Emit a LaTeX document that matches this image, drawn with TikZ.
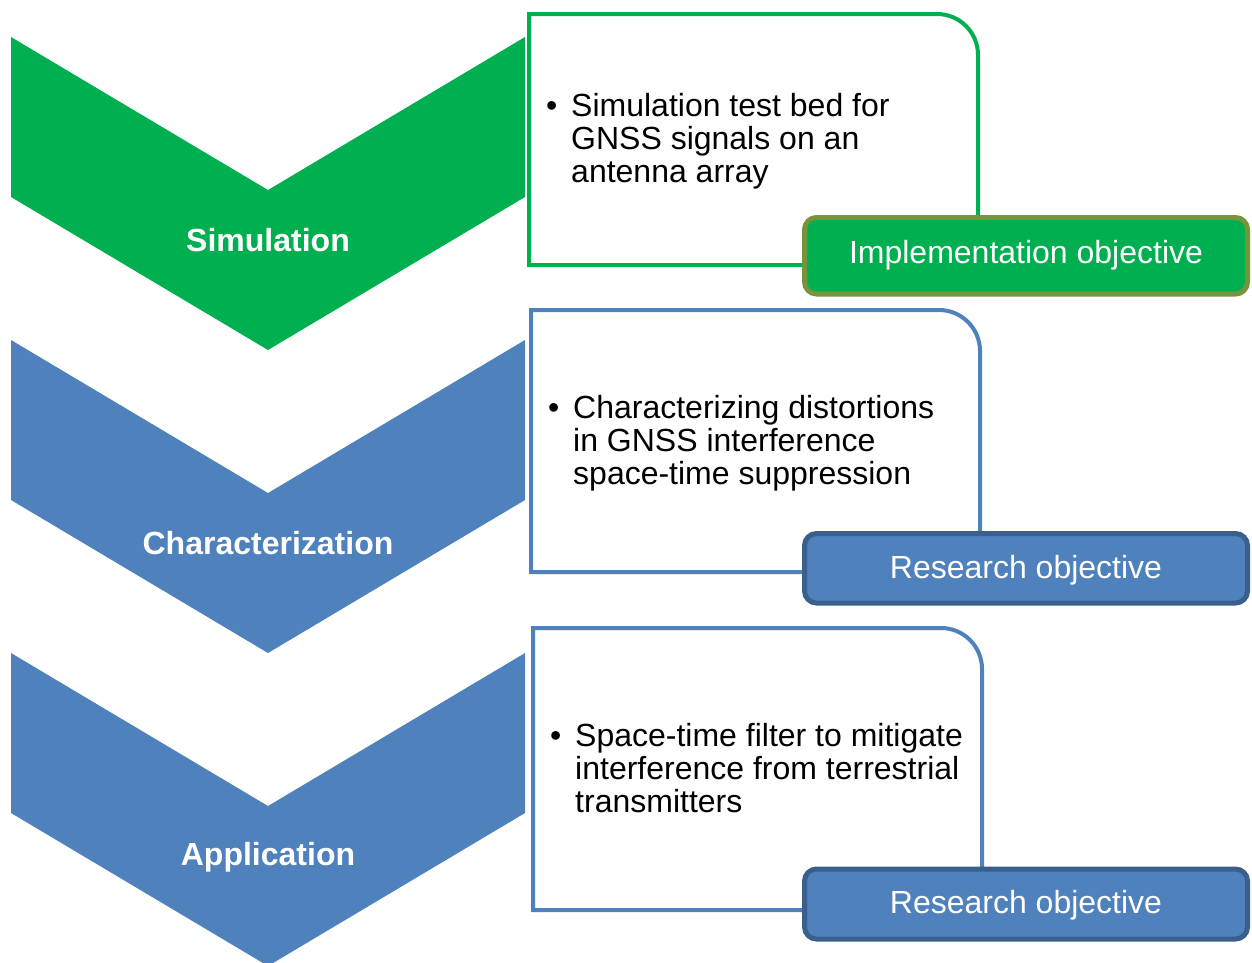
\documentclass[tikz,border=0pt]{standalone}
\usepackage{fontspec}
\setmainfont{Liberation Sans}
\begin{document}
\begin{tikzpicture}[x=1pt,y=-1pt,
  chev/.style={fill=#1,draw=none},
  chevlabel/.style={text=white,font=\fontsize{32}{33}\selectfont\bfseries},
  outline/.style={draw=#1,line width=4pt,fill=white},
  tag/.style={fill=#1,line width=5pt,rounded corners=12pt},
  tagtext/.style={text=white,font=\fontsize{32}{33}\selectfont},
  bodytext/.style={anchor=base west,inner sep=0pt,font=\fontsize{32}{33}\selectfont},
]
\definecolor{sgreen}{HTML}{00B050}
\definecolor{olive}{HTML}{77933C}
\definecolor{sblue}{HTML}{4F81BD}
\definecolor{dblue}{HTML}{3A5F8D}
\useasboundingbox (0,0) rectangle (1252,962);

% phase chevrons
\begin{scope}
\clip (0,0) rectangle (1252,962);
\fill[chev=sgreen] (11,37) -- (268,190) -- (525,37) -- (525,197) -- (268,350) -- (11,197) -- cycle;
\fill[chev=sblue] (11,340) -- (268,493) -- (525,340) -- (525,500) -- (268,653) -- (11,500) -- cycle;
\fill[chev=sblue] (11,653) -- (268,806) -- (525,653) -- (525,813) -- (268,966) -- (11,813) -- cycle;
\end{scope}
\node[chevlabel] (simlabel) at (268,240) {Simulation};
\node[chevlabel] (charlabel) at (268,543) {Characterization};
\node[chevlabel] (applabel) at (268,857) {Application};

% description boxes (rounded top-right corner only)
\draw[outline=sgreen] (529,265) -- (529,14) [rounded corners=41pt] -- (978,14) [sharp corners] -- (978,265) -- cycle;
\draw[outline=sblue] (531,572) -- (531,310) [rounded corners=41pt] -- (980,310) [sharp corners] -- (980,572) -- cycle;
\draw[outline=sblue] (533,910) -- (533,628) [rounded corners=41pt] -- (982,628) [sharp corners] -- (982,910) -- cycle;

% bullet texts
\node[bodytext] (b1) at (546,116) {\textbullet};
\node[bodytext] (t1a) at (571,116) {Simulation test bed for};
\node[bodytext] (t1b) at (571,149) {GNSS signals on an};
\node[bodytext] (t1c) at (571,182) {antenna array};

\node[bodytext] (b2) at (548,418) {\textbullet};
\node[bodytext] (t2a) at (573,418) {Characterizing distortions};
\node[bodytext] (t2b) at (573,451) {in GNSS interference};
\node[bodytext] (t2c) at (573,484) {space-time suppression};

\node[bodytext] (b3) at (550,746) {\textbullet};
\node[bodytext] (t3a) at (575,746) {Space-time filter to mitigate};
\node[bodytext] (t3b) at (575,779) {interference from terrestrial};
\node[bodytext] (t3c) at (575,812) {transmitters};

% objective tags
\draw[tag=sgreen,draw=olive] (804.5,217.5) rectangle (1247.5,294);
\node[tagtext] (tag1) at (1026,255) {Implementation objective};
\draw[tag=sblue,draw=dblue] (804.5,533.5) rectangle (1247.5,603);
\node[tagtext] (tag2) at (1026,570) {Research objective};
\draw[tag=sblue,draw=dblue] (804.5,869) rectangle (1247.5,939);
\node[tagtext] (tag3) at (1026,905.5) {Research objective};
\end{tikzpicture}
\end{document}
